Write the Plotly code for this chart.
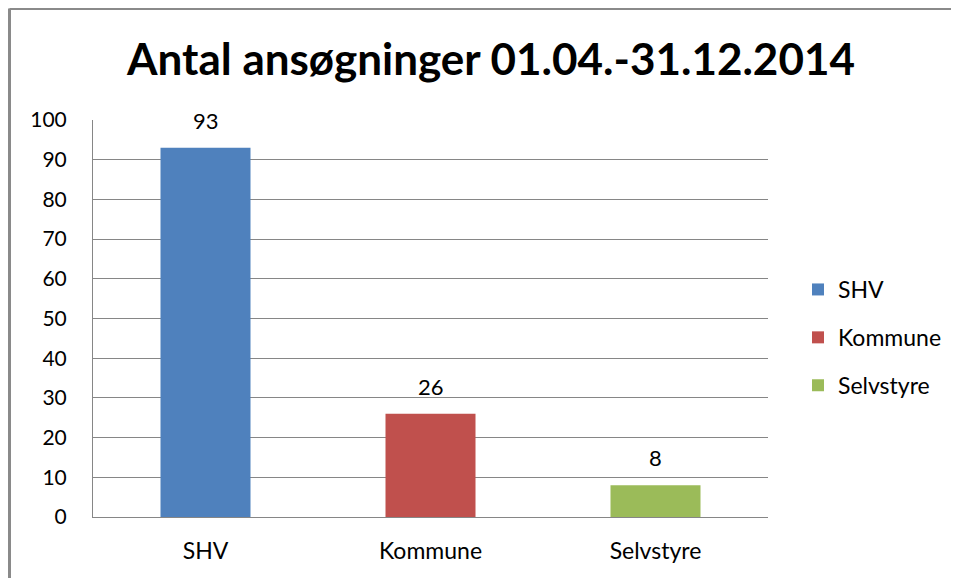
import plotly.graph_objects as go

categories = ["SHV", "Kommune", "Selvstyre"]
values = [93, 26, 8]
colors = ["#4F81BD", "#C0504D", "#9BBB59"]
title_text = "Antal ansøgninger 01.04.-31.12.2014"
y_ticks = [0, 10, 20, 30, 40, 50, 60, 70, 80, 90, 100]

FONT = "Lato, Open Sans, sans-serif"
OFF = 8  # page body margin offset

fig = go.Figure()
for i, (c, v, col) in enumerate(zip(categories, values, colors)):
    fig.add_trace(go.Bar(
        x=[c], y=[v], name=c, marker=dict(color=col, line=dict(width=0)),
        width=0.4, legendgroup=c, showlegend=True,
    ))
    fig.add_annotation(x=c, y=v, text=str(v), showarrow=False,
                       yanchor="bottom", yshift=12,
                       font=dict(family=FONT, size=22, color="#000"))

W, H = 959, 578
L, T = 93 - OFF, 120 - OFF
R = W - (768 - OFF)
B = H - (517 - OFF)
pw, ph = W - L - R, H - T - B
bx = (9.5 - OFF - L) / pw
by = 1 + (T - (8.5 - OFF)) / ph

fig.add_shape(type="line", xref="paper", yref="paper", x0=bx, x1=bx, y0=-1, y1=by,
              line=dict(color="#8a8a8a", width=3))
fig.add_shape(type="line", xref="paper", yref="paper", x0=bx, x1=2, y0=by, y1=by,
              line=dict(color="#8a8a8a", width=3))

fig.update_layout(
    width=W, height=H,
    margin=dict(l=L, r=R, t=T, b=B, pad=0),
    paper_bgcolor="white", plot_bgcolor="white",
    barmode="overlay",
    font=dict(family=FONT, size=20, color="#000"),
    title=dict(text="<b>" + title_text + "</b>", x=(491 - OFF) / W, xanchor="center",
               y=1 - (60 - OFF) / H, yanchor="middle",
               font=dict(family=FONT, size=44, color="#000")),
    legend=dict(x=(798 - OFF - L) / pw, xanchor="left", y=1 - (268 - OFF - T) / ph, yanchor="top",
                font=dict(family=FONT, size=23, color="#000"),
                tracegroupgap=15, bgcolor="rgba(0,0,0,0)"),
    xaxis=dict(showgrid=False, showline=True, linecolor="#868686", linewidth=1,
               ticks="", ticklabelstandoff=13, tickfont=dict(size=23),
               range=[-0.5, 2.5]),
    yaxis=dict(range=[0, 100], tickvals=y_ticks, showgrid=True, gridcolor="#868686",
               gridwidth=1, showline=True, linecolor="#868686", linewidth=1,
               ticks="", ticklabelstandoff=21, tickfont=dict(size=21), zeroline=False),
)

fig.write_html("out.html")
